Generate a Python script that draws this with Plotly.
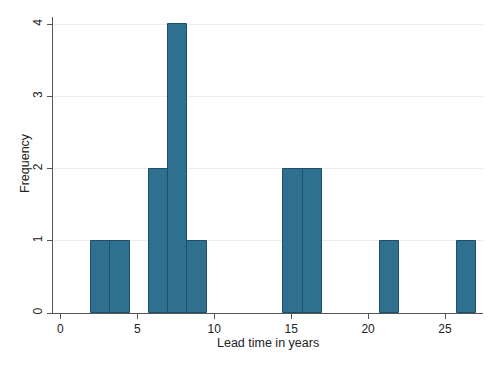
import plotly.graph_objects as go

# Histogram bins (left edges) and frequencies
bin_start = 2.0
bin_width = 1.25
bin_left_edges = [2.0, 3.25, 5.75, 7.0, 8.25, 14.5, 15.75, 20.75, 25.75]
frequencies = [1, 1, 2, 4, 1, 2, 2, 1, 1]

x_ticks = [0, 5, 10, 15, 20, 25]
y_ticks = [0, 1, 2, 3, 4]
x_title = "Lead time in years"
y_title = "Frequency"

centers = [e + bin_width / 2 for e in bin_left_edges]

fig = go.Figure(go.Bar(
    x=centers, y=frequencies, width=bin_width,
    marker=dict(color="#2f6f8f", line=dict(color="#1f4f68", width=1)),
))

# page body has an 8px default margin, so the figure is sized to fit 500x367
font = dict(family="Liberation Sans, Arial, sans-serif", size=12, color="#222")
title_font = dict(family="Liberation Sans, Arial, sans-serif", size=12.5, color="#222")
fig.update_layout(
    width=492, height=359,
    margin=dict(l=45, r=17, t=9, b=54, autoexpand=False),
    paper_bgcolor="white", plot_bgcolor="white",
    font=font, showlegend=False, bargap=0,
    xaxis=dict(range=[-0.48, 27.47], tickvals=x_ticks, ticks="outside", ticklen=5,
               tickcolor="#555", showline=True, linecolor="#555", linewidth=1,
               showgrid=False, zeroline=False, automargin=False,
               tickfont=font),
    yaxis=dict(range=[0, 4.1], tickvals=y_ticks, ticks="outside", ticklen=5,
               tickcolor="#555", showline=True, linecolor="#555", linewidth=1,
               showgrid=True, gridcolor="#ececec", zeroline=False, automargin=False,
               tickangle=-90,
               tickfont=font),
    annotations=[
        dict(text=x_title, xref="paper", yref="paper", x=0.5, y=-0.102,
             xanchor="center", yanchor="middle", showarrow=False, font=title_font),
        dict(text=y_title, xref="paper", yref="paper", x=-0.065, y=0.507,
             xanchor="center", yanchor="middle", showarrow=False, font=title_font,
             textangle=-90),
    ],
)

fig.write_html("out.html")
